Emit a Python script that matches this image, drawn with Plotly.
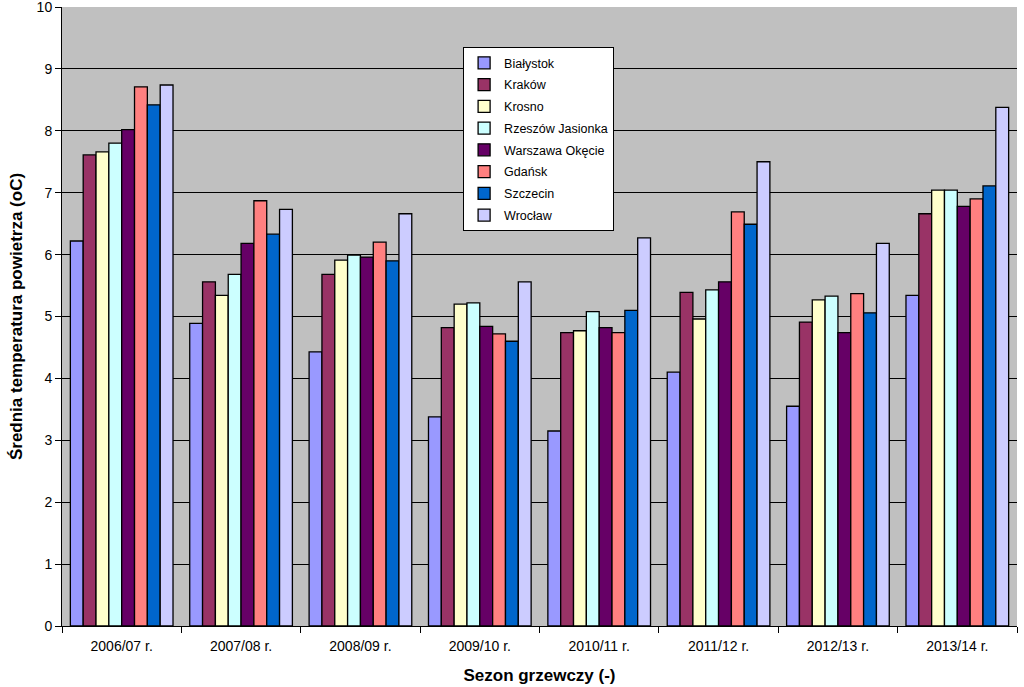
import plotly.graph_objects as go

seasons = ["2006/07 r.", "2007/08 r.", "2008/09 r.", "2009/10 r.",
           "2010/11 r.", "2011/12 r.", "2012/13 r.", "2013/14 r."]

bialystok = [6.22, 4.89, 4.43, 3.38, 3.15, 4.10, 3.55, 5.34]
krakow = [7.61, 5.56, 5.68, 4.82, 4.74, 5.39, 4.91, 6.66]
krosno = [7.66, 5.34, 5.91, 5.20, 4.77, 4.96, 5.27, 7.04]
rzeszow = [7.80, 5.68, 5.99, 5.22, 5.08, 5.43, 5.33, 7.04]
warszawa = [8.02, 6.18, 5.96, 4.84, 4.82, 5.56, 4.74, 6.78]
gdansk = [8.71, 6.87, 6.20, 4.72, 4.74, 6.69, 5.37, 6.90]
szczecin = [8.42, 6.33, 5.90, 4.60, 5.10, 6.49, 5.06, 7.11]
wroclaw = [8.74, 6.73, 6.66, 5.56, 6.27, 7.50, 6.18, 8.38]

series = [
    ("Białystok", bialystok, "#9999FF"),
    ("Kraków", krakow, "#993366"),
    ("Krosno", krosno, "#FFFFCC"),
    ("Rzeszów Jasionka", rzeszow, "#CCFFFF"),
    ("Warszawa Okęcie", warszawa, "#660066"),
    ("Gdańsk", gdansk, "#FF8080"),
    ("Szczecin", szczecin, "#0066CC"),
    ("Wrocław", wroclaw, "#CCCCFF"),
]

fig = go.Figure()
for name, vals, col in series:
    fig.add_trace(go.Bar(x=seasons, y=vals, name=name, legendgroup=name,
                         marker=dict(color=col, line=dict(color="black", width=1.3))))

fig.update_layout(
    width=1024, height=687,
    margin=dict(l=62, r=7, t=7, b=61),
    paper_bgcolor="white", plot_bgcolor="#C0C0C0",
    font=dict(family="Liberation Sans, Arial", size=14, color="black"),
    barmode="group", bargap=0.14, bargroupgap=0,
    showlegend=True,
    legend=dict(x=0.42, y=0.935, xanchor="left", yanchor="top",
                bgcolor="white", bordercolor="black", borderwidth=1,
                font=dict(size=12.5), tracegroupgap=2.5),
)
fig.update_xaxes(
    title=dict(text="<b>Sezon grzewczy (-)</b>", standoff=16),
    automargin=False,
    showline=True, linecolor="black", linewidth=1,
    ticks="outside", tickson="boundaries", ticklen=6, tickcolor="black",
    ticklabelstandoff=7,
    showgrid=False,
)
fig.update_yaxes(
    title=dict(text="<b>Średnia temperatura powietrza (oC)</b>", standoff=9),
    automargin=False, ticklabeloverflow="allow",
    range=[0, 10], dtick=1,
    showline=True, linecolor="black", linewidth=1,
    ticks="outside", ticklen=6, tickcolor="black",
    gridcolor="black", gridwidth=1, zeroline=False,
)

# drop the page's default body margin so the figure sits at the window's corner
fig.write_html("out.html", config={"displayModeBar": False},
               post_script="document.body.style.margin='0';")
